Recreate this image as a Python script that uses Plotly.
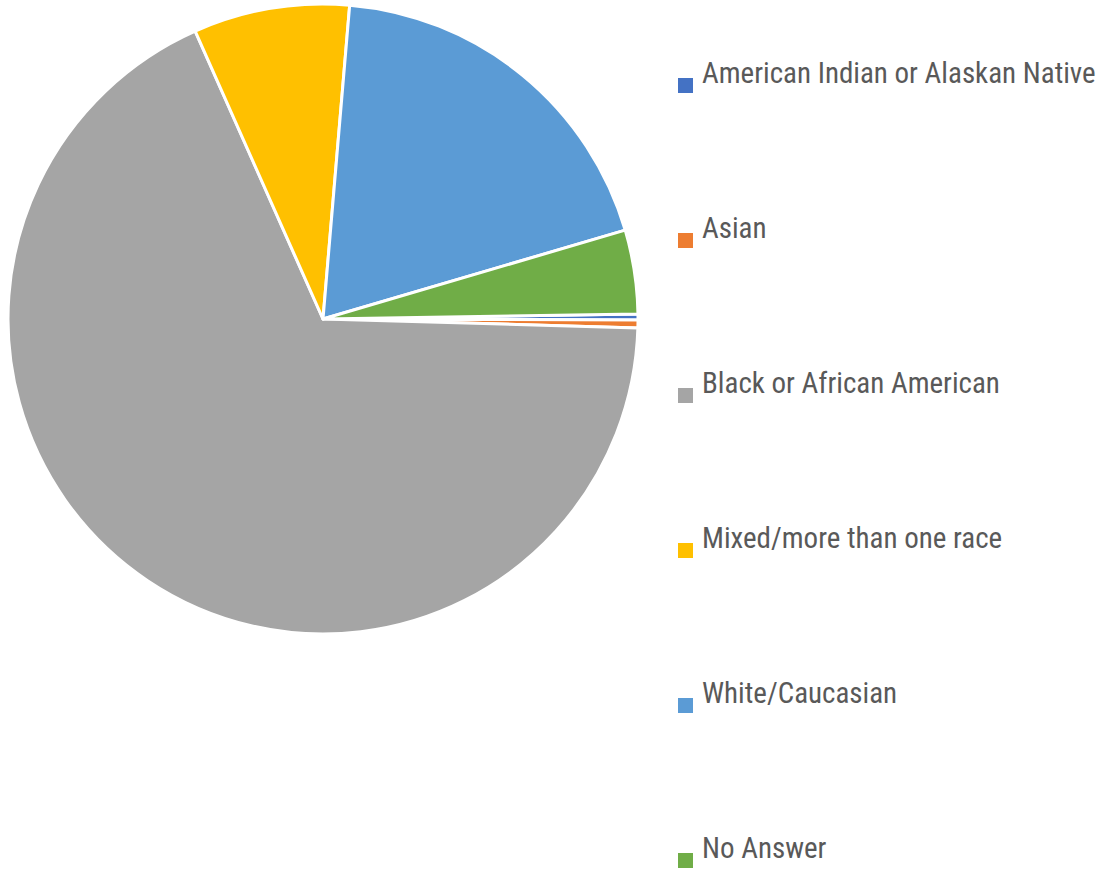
import plotly.graph_objects as go

# Share of respondents by race (percent)
labels = [
    "American Indian or Alaskan Native",
    "Asian",
    "Black or African American",
    "Mixed/more than one race",
    "White/Caucasian",
    "No Answer",
]
shares = [0.3, 0.4, 67.9, 8.0, 19.1, 4.3]
colors = ["#4472C4", "#ED7D31", "#A5A5A5", "#FFC000", "#5B9BD5", "#70AD47"]

W, H = 1112, 873
cx, cy, r = 323, 319, 315  # pie centre and radius in pixels

fig = go.Figure(
    go.Pie(
        labels=labels,
        values=shares,
        marker=dict(colors=colors, line=dict(color="white", width=3)),
        sort=False,
        direction="clockwise",
        rotation=89.1,
        textinfo="none",
        hoverinfo="label+percent",
        showlegend=False,
        domain=dict(
            x=[(cx - r) / W, (cx + r) / W],
            y=[(H - cy - r) / H, (H - cy + r) / H],
        ),
    )
)

# Hand-built legend with wide vertical spacing
legend_top, legend_step = 73, 155
font = dict(family="Liberation Sans Narrow, Arial Narrow, Roboto Condensed, Liberation Sans, sans-serif",
            size=29, color="#595959")
for i, (lab, col) in enumerate(zip(labels, colors)):
    ty = legend_top + i * legend_step
    fig.add_annotation(
        x=700 / W, y=1 - ty / H, xref="paper", yref="paper",
        text=lab, showarrow=False, xanchor="left", yanchor="middle",
        font=font,
    )
    fig.add_shape(
        type="rect", xref="paper", yref="paper",
        x0=678 / W, x1=693 / W,
        y0=1 - (ty + 20) / H, y1=1 - (ty + 5) / H,
        fillcolor=col, line=dict(width=0),
    )

fig.update_layout(
    width=W, height=H,
    margin=dict(l=0, r=0, t=0, b=0),
    paper_bgcolor="white",
    plot_bgcolor="white",
)

fig.write_html("out.html")
